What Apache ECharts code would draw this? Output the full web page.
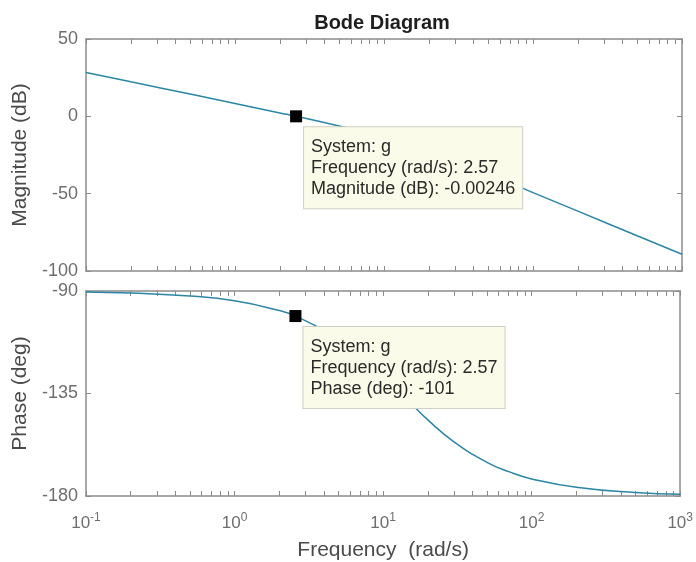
<!DOCTYPE html>
<html>
<head>
<meta charset="utf-8">
<script src="https://cdn.jsdelivr.net/npm/echarts@6/dist/echarts.min.js"></script>
<style>html,body{margin:0;padding:0;background:#fff}#c{width:696px;height:562px}</style>
</head>
<body>
<div id="c"></div>
<script>
// Data
const freq = [0.1, 0.2, 0.5, 1, 2, 2.57, 5, 7, 10, 15, 20, 30, 50, 70, 100, 200, 500, 1000];
const magnitudeDb = [28.4, 22.3, 14.4, 8.3, 2.2, 0.0, -6.2, -9.4, -13.6, -19.5, -22.8, -29.9, -37.5, -43.0, -49.3, -61.3, -77.2, -89.2];
const phaseDeg = [-90.4, -90.9, -92.2, -94.3, -98.6, -101.0, -110.7, -117.9, -127.2, -138.6, -146.6, -156.2, -165.2, -169.3, -172.5, -176.2, -178.5, -179.2];
const marker = { freq: 2.57, mag: -0.00246, phase: -101 };
const magTicks = [-100, -50, 0, 50];
const phaseTicks = [-180, -135, -90];
const freqTicks = [0.1, 1, 10, 100, 1000];
const minorFreqTicks = [];
[0.1, 1, 10, 100].forEach(d => { for (let k = 2; k <= 9; k++) minorFreqTicks.push(+(d * k).toPrecision(3)); });

const chart = echarts.init(document.getElementById('c'));
const FONT = 'Liberation Sans, Arial, Helvetica, sans-serif';
const frameColor = '#8c8c8c';
const textColor = '#4a4a4a';
const tickTextColor = '#6e6e6e';
const lineColor = '#2b86a5';

const supMap = { '0.1': '-1', '1': '0', '10': '1', '100': '2', '1000': '3' };
function xLab(v) {
  const key = String(+v.toPrecision(3));
  return '{b|10}{s|' + (supMap[key] !== undefined ? supMap[key] : '') + '}';
}

function xAxes(gridIndex, showLabel) {
  const base = {
    type: 'log', logBase: 10, min: 0.1, max: 1000, gridIndex,
    axisLine: { show: true, onZero: false, lineStyle: { color: frameColor, width: 1.5 } },
    splitLine: { show: false },
  };
  return [
    Object.assign({}, base, {
      position: 'bottom',
      axisTick: { show: true, inside: true, length: 5, lineStyle: { color: frameColor }, customValues: freqTicks.concat(minorFreqTicks) },
      axisLabel: showLabel ? {
        show: true, customValues: freqTicks, margin: 16, color: tickTextColor, fontFamily: FONT,
        formatter: xLab,
        rich: {
          b: { fontSize: 17, color: tickTextColor, fontFamily: FONT, lineHeight: 22 },
          s: { fontSize: 12, color: tickTextColor, fontFamily: FONT, verticalAlign: 'top', lineHeight: 22, padding: [0, 0, 10, 0] }
        }
      } : { show: false },
      name: showLabel ? 'Frequency  (rad/s)' : '',
      nameLocation: 'middle', nameGap: 44,
      nameTextStyle: { fontSize: 21, color: textColor, fontFamily: FONT }
    }),
    Object.assign({}, base, {
      position: 'top',
      axisTick: { show: true, inside: true, length: 5, lineStyle: { color: frameColor }, customValues: freqTicks.concat(minorFreqTicks) },
      axisLabel: { show: false }
    })
  ];
}

function yAxes(gridIndex, min, max, interval, name) {
  const base = {
    type: 'value', gridIndex, min, max, interval,
    axisLine: { show: true, onZero: false, lineStyle: { color: frameColor, width: 1.5 } },
    splitLine: { show: false },
    axisTick: { show: true, inside: true, length: 5, lineStyle: { color: frameColor } }
  };
  return [
    Object.assign({}, base, {
      position: 'left',
      axisLabel: { show: true, fontSize: 18, color: tickTextColor, fontFamily: FONT, margin: 8 },
      name, nameLocation: 'middle', nameGap: 52, nameRotate: 90,
      nameTextStyle: { fontSize: 21, color: textColor, fontFamily: FONT }
    }),
    Object.assign({}, base, { position: 'right', axisLabel: { show: false } })
  ];
}

function tipLabel(lines, pos) {
  return {
    show: true, position: pos, formatter: lines.join('\n'), opacity: 1,
    backgroundColor: '#fbfbe9', borderColor: '#cfcfc4', borderWidth: 1,
    padding: [9, 7, 9, 7], fontSize: 18, lineHeight: 21, color: '#2a2a2a', fontFamily: FONT, align: 'left'
  };
}

const option = {
  backgroundColor: '#ffffff',
  animation: false,
  title: {
    text: 'Bode Diagram', left: 377, top: 8, textAlign: 'center',
    textStyle: { fontSize: 20, fontWeight: 'bold', color: '#1e1e1e', fontFamily: FONT }
  },
  grid: [
    { left: 86, right: 14, top: 39, height: 232 },
    { left: 86, right: 14, top: 291, height: 210 }
  ],
  xAxis: xAxes(0, false).concat(xAxes(1, true)),
  yAxis: yAxes(0, -100, 50, 50, 'Magnitude (dB)').concat(yAxes(1, -180, -90, 45, 'Phase (deg)')),
  series: [
    {
      type: 'line', xAxisIndex: 0, yAxisIndex: 0, smooth: true, showSymbol: false,
      data: freq.map((f, i) => [f, magnitudeDb[i]]),
      lineStyle: { color: lineColor, width: 1.5 }, z: 2
    },
    {
      type: 'line', xAxisIndex: 2, yAxisIndex: 2, smooth: true, showSymbol: false,
      data: freq.map((f, i) => [f, phaseDeg[i]]),
      lineStyle: { color: lineColor, width: 1.5 }, z: 2
    },
    {
      type: 'scatter', xAxisIndex: 0, yAxisIndex: 0, symbol: 'rect', symbolSize: 12,
      itemStyle: { color: '#000', opacity: 1 }, z: 5,
      data: [[marker.freq, marker.mag]],
      label: tipLabel(['System: g', 'Frequency (rad/s): 2.57', 'Magnitude (dB): -0.00246'], [14, 17])
    },
    {
      type: 'scatter', xAxisIndex: 2, yAxisIndex: 2, symbol: 'rect', symbolSize: 12,
      itemStyle: { color: '#000', opacity: 1 }, z: 5,
      data: [[marker.freq, marker.phase]],
      label: tipLabel(['System: g', 'Frequency (rad/s): 2.57', 'Phase (deg): -101'], [14, 17])
    }
  ]
};
chart.setOption(option);
</script>
</body>
</html>
